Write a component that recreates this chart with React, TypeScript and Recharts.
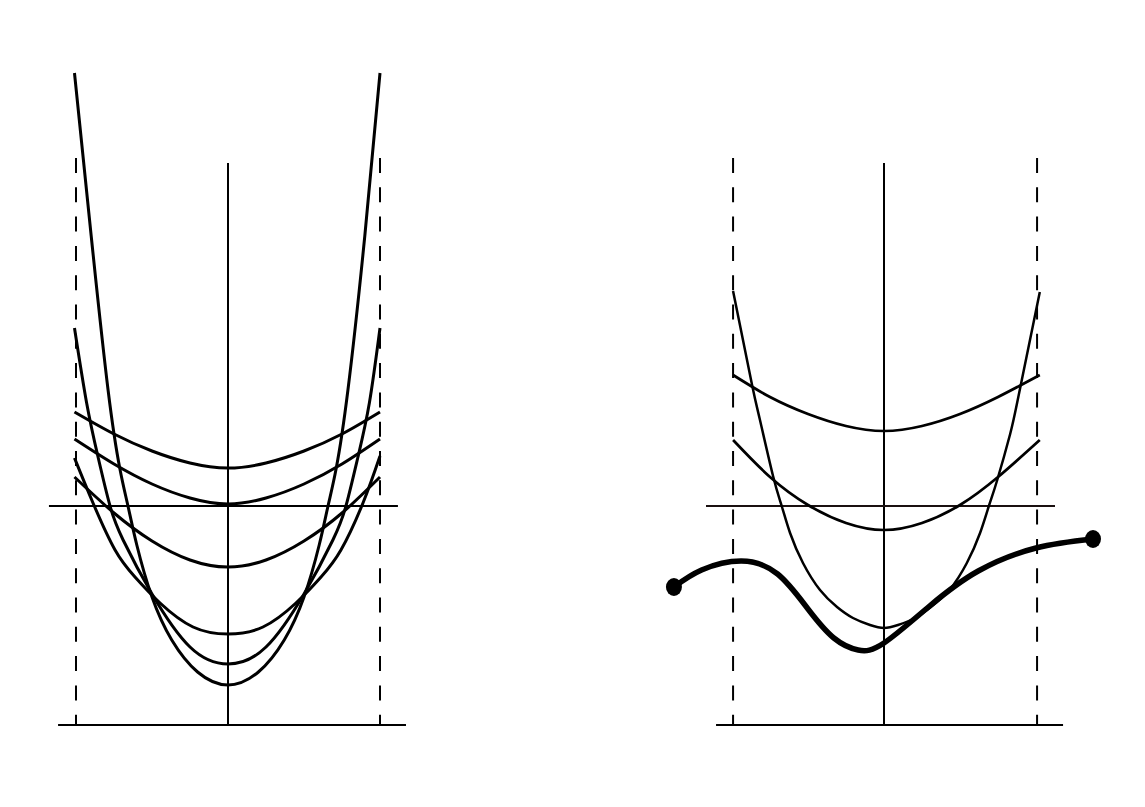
import React from 'react';
import { ComposedChart, Line, Scatter, XAxis, YAxis } from 'recharts';

type Pt = { x: number; y: number };

// left panel curves (x: -1..1 between dashed lines, y: 0 on the horizontal line)
const leftA: Pt[] = [
  { x: -1.01, y: 0.94 }, { x: -0.75, y: 0.72 }, { x: -0.5, y: 0.55 }, { x: -0.25, y: 0.43 },
  { x: 0, y: 0.38 }, { x: 0.25, y: 0.43 }, { x: 0.5, y: 0.55 }, { x: 0.75, y: 0.72 }, { x: 1.0, y: 0.94 },
];
const leftB: Pt[] = [
  { x: -1.01, y: 0.67 }, { x: -0.75, y: 0.42 }, { x: -0.5, y: 0.22 }, { x: -0.25, y: 0.08 },
  { x: 0, y: 0.02 }, { x: 0.25, y: 0.08 }, { x: 0.5, y: 0.22 }, { x: 0.75, y: 0.42 }, { x: 1.0, y: 0.67 },
];
const leftC: Pt[] = [
  { x: -1.01, y: 0.29 }, { x: -0.75, y: -0.07 }, { x: -0.5, y: -0.35 }, { x: -0.25, y: -0.54 },
  { x: 0, y: -0.61 }, { x: 0.25, y: -0.54 }, { x: 0.5, y: -0.35 }, { x: 0.75, y: -0.07 }, { x: 1.0, y: 0.29 },
];
const leftD: Pt[] = [
  { x: -1.01, y: 0.48 }, { x: -0.888, y: 0.03 }, { x: -0.743, y: -0.44 }, { x: -0.612, y: -0.71 },
  { x: -0.447, y: -0.97 }, { x: -0.23, y: -1.21 }, { x: 0, y: -1.28 }, { x: 0.23, y: -1.21 },
  { x: 0.447, y: -0.97 }, { x: 0.612, y: -0.71 }, { x: 0.743, y: -0.44 }, { x: 0.888, y: 0.03 },
  { x: 1.0, y: 0.5 },
];
const leftE: Pt[] = [
  { x: -1.01, y: 1.78 }, { x: -0.93, y: 1.03 }, { x: -0.855, y: 0.49 }, { x: -0.776, y: 0 },
  { x: -0.69, y: -0.34 }, { x: -0.5, y: -0.88 }, { x: -0.25, y: -1.41 }, { x: 0, y: -1.58 },
  { x: 0.25, y: -1.41 }, { x: 0.5, y: -0.88 }, { x: 0.69, y: -0.34 }, { x: 0.776, y: 0 },
  { x: 0.855, y: 0.49 }, { x: 0.93, y: 1.03 }, { x: 1.0, y: 1.78 },
];
const leftF: Pt[] = [
  { x: -1.01, y: 4.33 }, { x: -0.9, y: 2.7 }, { x: -0.789, y: 1.16 }, { x: -0.711, y: 0.37 },
  { x: -0.658, y: 0 }, { x: -0.6, y: -0.39 }, { x: -0.5, y: -0.91 }, { x: -0.37, y: -1.34 },
  { x: -0.2, y: -1.66 }, { x: 0, y: -1.79 }, { x: 0.2, y: -1.66 }, { x: 0.37, y: -1.34 },
  { x: 0.5, y: -0.91 }, { x: 0.6, y: -0.39 }, { x: 0.658, y: 0 }, { x: 0.711, y: 0.37 },
  { x: 0.789, y: 1.16 }, { x: 0.9, y: 2.7 }, { x: 1.0, y: 4.33 },
];

// right panel curves
const rightG: Pt[] = [
  { x: -0.993, y: 1.31 }, { x: -0.75, y: 1.09 }, { x: -0.5, y: 0.92 }, { x: -0.25, y: 0.8 },
  { x: 0, y: 0.75 }, { x: 0.25, y: 0.8 }, { x: 0.5, y: 0.92 }, { x: 0.75, y: 1.09 }, { x: 1.025, y: 1.31 },
];
const rightH: Pt[] = [
  { x: -0.993, y: 0.66 }, { x: -0.75, y: 0.29 }, { x: -0.5, y: 0.01 }, { x: -0.25, y: -0.17 },
  { x: 0, y: -0.24 }, { x: 0.25, y: -0.17 }, { x: 0.5, y: 0.01 }, { x: 0.75, y: 0.29 }, { x: 1.025, y: 0.66 },
];
const rightI: Pt[] = [
  { x: -0.993, y: 2.15 }, { x: -0.868, y: 1.21 }, { x: -0.816, y: 0.86 }, { x: -0.73, y: 0.3 },
  { x: -0.673, y: 0 }, { x: -0.618, y: -0.27 }, { x: -0.533, y: -0.57 }, { x: -0.421, y: -0.84 },
  { x: -0.309, y: -1.01 }, { x: -0.204, y: -1.12 }, { x: -0.092, y: -1.19 }, { x: 0, y: -1.22 },
  { x: 0.092, y: -1.19 }, { x: 0.204, y: -1.12 }, { x: 0.309, y: -1.01 }, { x: 0.43, y: -0.84 },
  { x: 0.545, y: -0.57 }, { x: 0.632, y: -0.27 }, { x: 0.69, y: 0 }, { x: 0.745, y: 0.26 },
  { x: 0.83, y: 0.72 }, { x: 0.885, y: 1.1 }, { x: 1.025, y: 2.14 },
];
// thick path with dotted ends
const rightK: Pt[] = [
  { x: -1.382, y: -0.81 }, { x: -1.2, y: -0.64 }, { x: -0.94, y: -0.55 }, { x: -0.7, y: -0.68 },
  { x: -0.5, y: -1.03 }, { x: -0.33, y: -1.32 }, { x: -0.17, y: -1.44 }, { x: 0, y: -1.37 },
  { x: 0.3, y: -1.0 }, { x: 0.62, y: -0.65 }, { x: 1.0, y: -0.42 }, { x: 1.375, y: -0.33 },
];
const rightKEnds: Pt[] = [{ x: -1.382, y: -0.81 }, { x: 1.375, y: -0.33 }];

// axes and guides
const leftAxisV: Pt[] = [{ x: 0, y: 3.43 }, { x: 0, y: -2.19 }];
const leftAxisH: Pt[] = [{ x: -1.178, y: 0 }, { x: 1.118, y: 0 }];
const leftBase: Pt[] = [{ x: -1.118, y: -2.19 }, { x: 1.171, y: -2.19 }];
const leftDashL: Pt[] = [{ x: -1, y: 3.48 }, { x: -1, y: -2.19 }];
const leftDashR: Pt[] = [{ x: 1, y: 3.48 }, { x: 1, y: -2.19 }];

const rightAxisV: Pt[] = [{ x: 0, y: 3.43 }, { x: 0, y: -2.19 }];
const rightAxisH: Pt[] = [{ x: -1.171, y: 0 }, { x: 1.125, y: 0 }];
const rightBase: Pt[] = [{ x: -1.105, y: -2.19 }, { x: 1.178, y: -2.19 }];
const rightDashL: Pt[] = [{ x: -0.993, y: 3.48 }, { x: -0.993, y: -2.19 }];
const rightDashR: Pt[] = [{ x: 1.007, y: 3.48 }, { x: 1.007, y: -2.19 }];

type Stroke = { data: Pt[]; w: number; curve?: boolean; dash?: string; color?: string };

const leftStrokes: Stroke[] = [
  { data: leftAxisV, w: 2 },
  { data: leftAxisH, w: 2 },
  { data: leftBase, w: 2 },
  { data: leftDashL, w: 2, dash: '15 14.3' },
  { data: leftDashR, w: 2, dash: '15 14.3' },
  { data: leftA, w: 3, curve: true },
  { data: leftB, w: 3, curve: true },
  { data: leftC, w: 3, curve: true },
  { data: leftD, w: 3, curve: true },
  { data: leftE, w: 3, curve: true },
  { data: leftF, w: 3, curve: true },
];

const rightStrokes: Stroke[] = [
  { data: rightAxisV, w: 2 },
  { data: rightAxisH, w: 2, color: '#1a1010' },
  { data: rightBase, w: 2 },
  { data: rightDashL, w: 2, dash: '15 14.3' },
  { data: rightDashR, w: 2, dash: '15 14.3' },
  { data: rightG, w: 2.7, curve: true },
  { data: rightH, w: 2.7, curve: true },
  { data: rightI, w: 2.5, curve: true },
  { data: rightK, w: 5.5, curve: true },
];

const Panel = ({ strokes, ends }: { strokes: Stroke[]; ends?: Pt[] }) => (
  <ComposedChart width={456} height={807} margin={{ top: 6, right: 0, bottom: 1, left: 0 }}>
    <XAxis type="number" dataKey="x" domain={[-1.5, 1.5]} allowDataOverflow hide />
    <YAxis type="number" dataKey="y" domain={[-3, 5]} allowDataOverflow hide />
    {strokes.map((s, i) => (
      <Line
        key={i}
        data={s.data}
        dataKey="y"
        type={s.curve ? 'natural' : 'linear'}
        stroke={s.color ?? '#000'}
        strokeWidth={s.w}
        strokeDasharray={s.dash}
        dot={false}
        activeDot={false}
        legendType="none"
        isAnimationActive={false}
      />
    ))}
    {ends && (
      <Scatter
        data={ends}
        dataKey="y"
        isAnimationActive={false}
        shape={(p: any) => <ellipse cx={p.cx} cy={p.cy} rx={8} ry={9} fill="#000" />}
      />
    )}
  </ComposedChart>
);

export default function App() {
  return (
    <div style={{ position: 'relative', width: 1145, height: 807, background: '#fff' }}>
      <style>{'body{margin:0}'}</style>
      <div style={{ position: 'absolute', left: 0, top: 0 }}>
        <Panel strokes={leftStrokes} />
      </div>
      <div style={{ position: 'absolute', left: 656, top: 0 }}>
        <Panel strokes={rightStrokes} ends={rightKEnds} />
      </div>
    </div>
  );
}
